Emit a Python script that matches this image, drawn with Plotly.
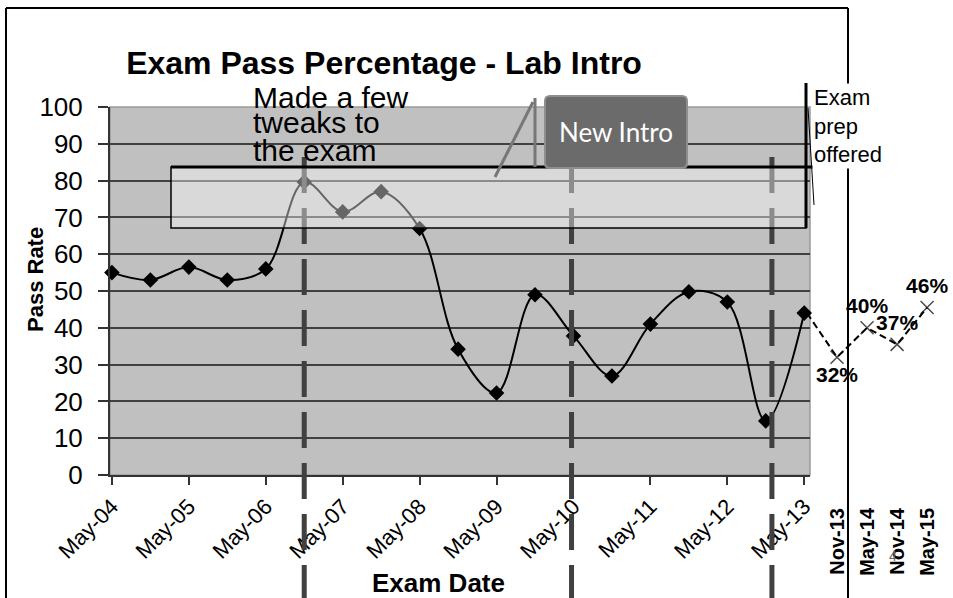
import plotly.graph_objects as go

# ---------------- data ----------------
exam_dates = ["May-04", "Nov-04", "May-05", "Nov-05", "May-06", "Nov-06", "May-07",
              "Nov-07", "May-08", "Nov-08", "May-09", "Nov-09", "May-10", "Nov-10",
              "May-11", "Nov-11", "May-12", "Nov-12", "May-13"]
pass_rate = [55, 53, 56.5, 53, 56, 79.6, 71.5, 77, 67, 34.2, 22.3, 49, 37.8, 26.9,
             41, 49.8, 47, 14.7, 44]
main_ticks = ["May-04", "May-05", "May-06", "May-07", "May-08", "May-09", "May-10",
              "May-11", "May-12", "May-13"]

recent_dates = ["May-13", "Nov-13", "May-14", "Nov-14", "May-15"]
recent_rate = [44, 32, 40, 35.5, 45.5]
recent_labels = ["", "32%", "40%", "37%", "46%"]
recent_ticks = ["Nov-13", "May-14", "Nov-14", "May-15"]

event_dates = ["Nov-06", "May-10", "Nov-12"]
event_shift = [0.0, -0.05, 0.16]

W, H = 953, 598
FONT = "Liberation Sans, Arial, sans-serif"


def px(x):
    return x / W


def py(y):
    return 1 - y / H


def rounded_rect(x0, y0, x1, y1, r):
    # pixel box -> paper-space SVG path with rounded corners
    rx, ry = r / W, r / H
    X0, X1 = px(x0), px(x1)
    Y0, Y1 = py(y0), py(y1)  # Y0 top (larger), Y1 bottom
    return (f"M {X0 + rx},{Y0} L {X1 - rx},{Y0} Q {X1},{Y0} {X1},{Y0 - ry} "
            f"L {X1},{Y1 + ry} Q {X1},{Y1} {X1 - rx},{Y1} L {X0 + rx},{Y1} "
            f"Q {X0},{Y1} {X0},{Y1 + ry} L {X0},{Y0 - ry} Q {X0},{Y0} {X0 + rx},{Y0} Z")


fig = go.Figure()

fig.add_trace(go.Scatter(
    x=exam_dates, y=pass_rate, mode="lines+markers",
    line=dict(color="black", width=2, shape="spline", smoothing=1.0),
    marker=dict(symbol="diamond", size=12, color="black"),
    cliponaxis=False, showlegend=False, xaxis="x", yaxis="y"))

fig.add_trace(go.Scatter(
    x=recent_dates, y=recent_rate, mode="lines+markers+text",
    line=dict(color="black", width=2, dash="7px,4px"),
    marker=dict(symbol="x-thin", size=[0, 13, 13, 13, 13],
                line=dict(color="black", width=1.5), color="black"),
    text=recent_labels, texttemplate="<b>%{text}</b>",
    textposition=["top center", "bottom center", "top center", "top center", "top center"],
    textfont=dict(family=FONT, size=21, color="black"),
    cliponaxis=False, showlegend=False, xaxis="x2", yaxis="y2"))

shapes = []
# grey plot area
shapes.append(dict(type="rect", xref="x domain", yref="y domain", x0=0, x1=1, y0=0, y1=1,
                   fillcolor="#c0c0c0", line=dict(color="#9a9a9a", width=1.5), layer="below"))
# vertical dashed event lines
for d, s in zip(event_dates, event_shift):
    shapes.append(dict(type="line", xref="x", yref="paper", x0=d, x1=d,
                       x0shift=s, x1shift=s,
                       y0=py(157), y1=0, line=dict(color="#404040", width=5, dash="36px,15px"),
                       layer="above"))
# translucent highlight box
shapes.append(dict(type="rect", xref="paper", yref="paper", x0=px(171), x1=px(806),
                   y0=py(228), y1=py(167), fillcolor="rgba(255,255,255,0.4)",
                   line=dict(color="black", width=1.5), layer="above"))
shapes.append(dict(type="line", xref="paper", yref="paper", x0=px(171), x1=px(813),
                   y0=py(167), y1=py(167), line=dict(color="black", width=3), layer="above"))
# exam prep marker line
shapes.append(dict(type="line", xref="paper", yref="paper", x0=px(806), x1=px(806),
                   y0=py(83), y1=py(228), line=dict(color="black", width=3), layer="above"))
shapes.append(dict(type="line", xref="paper", yref="paper", x0=px(808), x1=px(814),
                   y0=py(108), y1=py(205), line=dict(color="black", width=1), layer="above"))
# New Intro callout
shapes.append(dict(type="line", xref="paper", yref="paper", x0=px(495), x1=px(533),
                   y0=py(177), y1=py(102), line=dict(color="#777777", width=3), layer="above"))
shapes.append(dict(type="line", xref="paper", yref="paper", x0=px(535), x1=px(535),
                   y0=py(98), y1=py(167), line=dict(color="#777777", width=3), layer="above"))
shapes.append(dict(type="path", xref="paper", yref="paper",
                   path=rounded_rect(545, 96, 687, 168, 5), fillcolor="#6b6b6b",
                   line=dict(color="#8e8e8e", width=2), layer="above"))
# outer frame
for (a, b, c, d) in [(6, 8, 6, 598), (6, 8, 848, 8), (848, 8, 848, 598)]:
    shapes.append(dict(type="line", xref="paper", yref="paper", x0=px(a), x1=px(c),
                       y0=py(b), y1=py(d), line=dict(color="black", width=2), layer="above"))

annotations = []
for txt, yc in [("Made a few", 97), ("tweaks to", 123), ("the exam", 150)]:
    annotations.append(dict(text=txt, xref="paper", yref="paper", x=px(251), y=py(yc),
                            xanchor="left", yanchor="middle", showarrow=False,
                            font=dict(family=FONT, size=30, color="black")))
annotations.append(dict(text="New Intro", xref="paper", yref="paper", x=px(616), y=py(132),
                        xanchor="center", yanchor="middle", showarrow=False,
                        font=dict(family="Lato, sans-serif", size=26, color="white")))
annotations.append(dict(text="Exam<br>prep<br>offered", xref="paper", yref="paper",
                        x=px(812), y=py(83), xanchor="left", yanchor="top", align="left",
                        showarrow=False, bgcolor="white", borderpad=1,
                        font=dict(family=FONT, size=22, color="black")))
annotations.append(dict(text="<b>Pass Rate</b>", xref="paper", yref="paper", x=px(35), y=py(280),
                        xanchor="center", yanchor="middle", textangle=-90, showarrow=False,
                        font=dict(family=FONT, size=22, color="black")))
annotations.append(dict(text="<b>Exam Date</b>", xref="paper", yref="paper", x=px(438), y=py(583),
                        xanchor="center", yanchor="middle", showarrow=False,
                        font=dict(family=FONT, size=26, color="black")))
annotations.append(dict(text="4", xref="paper", yref="paper", x=px(893), y=py(556),
                        xanchor="center", yanchor="middle", showarrow=False,
                        font=dict(family=FONT, size=14, color="#666666")))

fig.update_layout(
    width=W, height=H, margin=dict(l=0, r=0, t=0, b=0, autoexpand=False),
    paper_bgcolor="white", plot_bgcolor="rgba(0,0,0,0)",
    font=dict(family=FONT, color="black"),
    title=dict(text="<b>Exam Pass Percentage - Lab Intro</b>", x=px(384), y=py(63),
               xanchor="center", yanchor="middle", xref="paper", yref="paper",
               font=dict(family=FONT, size=32, color="black")),
    xaxis=dict(type="category", domain=[px(110), px(810)], range=[-0.05, 18.15],
               tickvals=main_ticks, ticktext=main_ticks, tickangle=-45,
               ticks="outside", ticklen=8, tickwidth=2, tickcolor="#333",
               showline=True, linecolor="#333", linewidth=2, showgrid=False, zeroline=False,
               tickfont=dict(family=FONT, size=22, color="black"), anchor="y",
               automargin=False),
    yaxis=dict(domain=[py(475), py(107)], range=[0, 100], dtick=10,
               showgrid=True, gridcolor="#404040", gridwidth=1.5, zeroline=False,
               ticks="outside", ticklen=10, tickwidth=2, tickcolor="#333",
               showline=True, linecolor="#333", linewidth=2, ticklabelstandoff=10,
               tickfont=dict(family=FONT, size=26, color="black"), anchor="x",
               automargin=False),
    xaxis2=dict(type="category", domain=[px(807), px(937)], range=[0, 4.33],
                tickvals=recent_ticks, ticktext=["<b>%s</b>" % t for t in recent_ticks],
                tickangle=-90, ticks="", showline=False, showgrid=False, zeroline=False,
                tickfont=dict(family=FONT, size=20, color="black"),
                anchor="free", position=py(503), automargin=False),
    yaxis2=dict(domain=[py(475), py(107)], range=[0, 100], visible=False,
                showgrid=False, anchor="x2", automargin=False),
    shapes=shapes, annotations=annotations,
)

fig.write_html("out.html", config={"displayModeBar": False},
               post_script="document.body.style.margin='0px';document.body.style.overflow='hidden';")
